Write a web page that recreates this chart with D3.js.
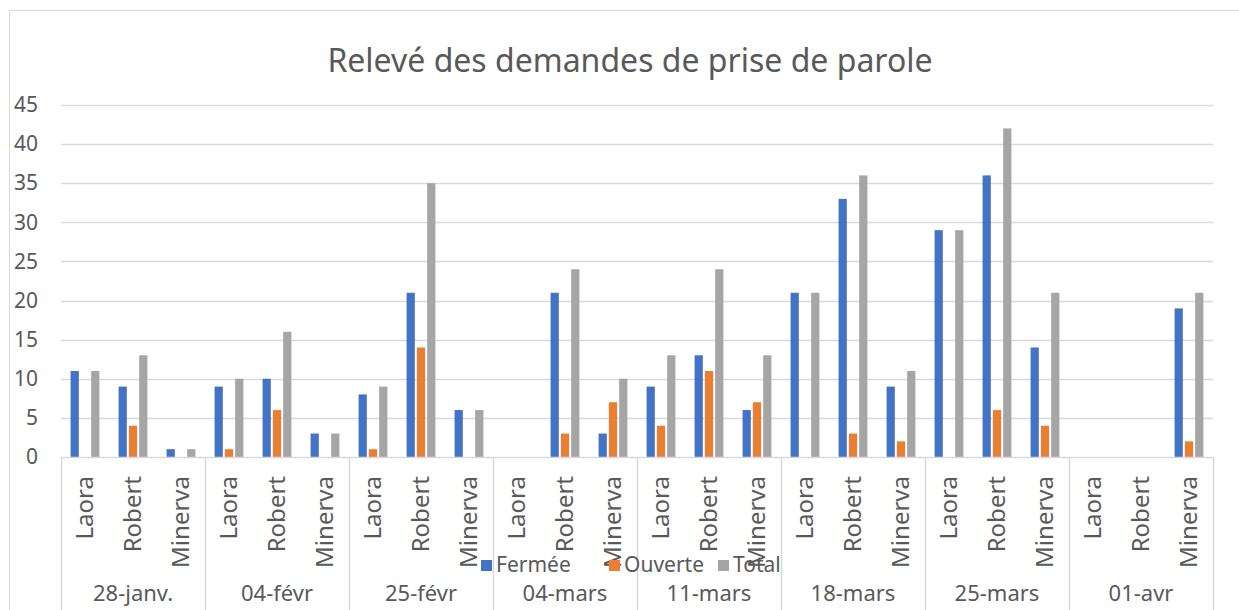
<!DOCTYPE html>
<html><head><meta charset="utf-8">
<script src="https://cdn.jsdelivr.net/npm/d3@7"></script>
<style>body{margin:0;background:#fff}svg{display:block}text{font-family:"Noto Sans","Open Sans",sans-serif;fill:#595959}</style>
</head><body>
<svg id="c" width="1239" height="610"></svg>
<script>
const dates = ["28-janv.","04-févr","25-févr","04-mars","11-mars","18-mars","25-mars","01-avr"];
const people = ["Laora","Robert","Minerva"];
const seriesNames = ["Fermée","Ouverte","Total"];
const colors = ["#4472C4","#ED7D31","#A5A5A5"];
// values per date, ordered Laora, Robert, Minerva
const fermee  = [[11,9,1],[9,10,3],[8,21,6],[0,21,3],[9,13,6],[21,33,9],[29,36,14],[0,0,19]];
const ouverte = [[0,4,0],[1,6,0],[1,14,0],[0,3,7],[4,11,7],[0,3,2],[0,6,4],[0,0,2]];
const total   = [[11,13,1],[10,16,3],[9,35,6],[0,24,10],[13,24,13],[21,36,11],[29,42,21],[0,0,21]];
const yTicks = [0,5,10,15,20,25,30,35,40,45];
const seriesVals = [fermee, ouverte, total];

const svg = d3.select("#c");
const L = 61, R = 1213, T = 105, B = 457;
svg.append("rect").attr("x",9.5).attr("y",10.5).attr("width",1240).attr("height",610)
  .attr("fill","none").attr("stroke","#D9D9D9");

const y = d3.scaleLinear().domain([0,45]).range([B,T]);
const x0 = d3.scaleBand().domain(dates).range([L,R]).padding(0);
const x1 = d3.scaleBand().domain(people).range([0,x0.bandwidth()]).padding(0);
const x2 = d3.scaleBand().domain(seriesNames).range([x1.bandwidth()*0.2, x1.bandwidth()*0.8]).paddingInner(0.2);

// gridlines
svg.append("g").selectAll("line").data(yTicks.filter(d=>d>0)).join("line")
  .attr("x1",L).attr("x2",R).attr("y1",d=>Math.round(y(d))+0.5).attr("y2",d=>Math.round(y(d))+0.5)
  .attr("stroke","#D9D9D9").attr("stroke-width",1.5);

// y axis labels
const yAxis = d3.axisLeft(y).tickValues(yTicks).tickSize(0).tickPadding(0);
const ya = svg.append("g").attr("transform",`translate(38,0)`).call(yAxis);
ya.select(".domain").remove();
ya.selectAll("text").style("font-size","21px").attr("fill","#595959")
  .style("font-family",'"Noto Sans","Open Sans",sans-serif');

// bars
const rows = [];
dates.forEach((d,i)=>people.forEach((p,j)=>seriesNames.forEach((s,k)=>{
  rows.push({d,p,s,k,v:seriesVals[k][i][j]});
})));
svg.append("g").selectAll("rect").data(rows.filter(r=>r.v>0)).join("rect")
  .attr("x",r=>x0(r.d)+x1(r.p)+x2(r.s))
  .attr("width",x2.bandwidth())
  .attr("y",r=>y(r.v)).attr("height",r=>B-y(r.v))
  .attr("fill",r=>colors[r.k]);

// x axis line and separators
svg.append("line").attr("x1",L).attr("x2",R).attr("y1",B+0.5).attr("y2",B+0.5)
  .attr("stroke","#D9D9D9").attr("stroke-width",1.5);
const bounds = dates.map(d=>x0(d)).concat([R]);
svg.append("g").selectAll("line").data(bounds).join("line")
  .attr("x1",d=>Math.round(d)+0.5).attr("x2",d=>Math.round(d)+0.5).attr("y1",B).attr("y2",610)
  .attr("stroke","#D9D9D9").attr("stroke-width",1.5);

// person labels
const pl = [];
dates.forEach(d=>people.forEach(p=>pl.push({d,p})));
svg.append("g").selectAll("text").data(pl).join("text")
  .attr("transform",o=>`translate(${x0(o.d)+x1(o.p)+x1.bandwidth()/2+8},476) rotate(-90)`)
  .attr("text-anchor","end").style("font-size","24px").text(o=>o.p);

// date labels
svg.append("g").selectAll("text").data(dates).join("text")
  .attr("x",d=>x0(d)+x0.bandwidth()/2).attr("y",601)
  .attr("text-anchor","middle").style("font-size","22px").text(d=>d);

// legend
const legX = [481,609,718];
const lg = svg.append("g");
seriesNames.forEach((s,k)=>{
  lg.append("rect").attr("x",legX[k]).attr("y",560).attr("width",11).attr("height",11).attr("fill",colors[k]);
  lg.append("text").attr("x",legX[k]+15).attr("y",572).style("font-size","21px").text(s);
});

// title
svg.append("text").attr("x",630).attr("y",72).attr("text-anchor","middle")
  .style("font-size","32px").text("Relevé des demandes de prise de parole");
</script>
</body></html>
